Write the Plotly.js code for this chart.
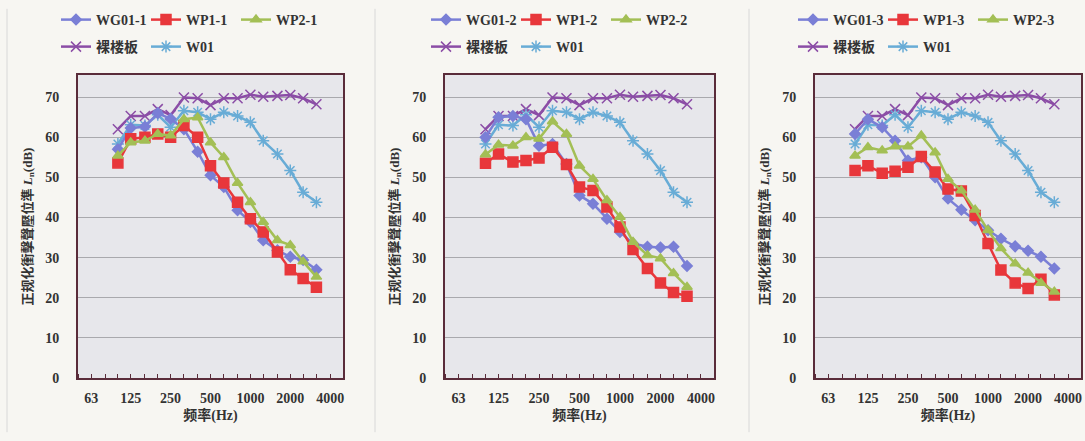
<!DOCTYPE html>
<html>
<head>
<meta charset="utf-8">
<script src="https://cdn.plot.ly/plotly-3.0.1.min.js"></script>
<style>
html,body{margin:0;padding:0;background:#f7f6f2;}
#chart{width:1085px;height:441px;}
</style>
</head>
<body>
<div id="chart"></div>
<script>
// 1/3-octave band centre frequencies (Hz)
const freqs = [100,125,160,200,250,315,400,500,630,800,1000,1250,1600,2000,2500,3150];
const minorBands = [50,63,80,100,125,160,200,250,315,400,500,630,800,1000,1250,1600,2000,2500,3150,4000,5000];
const tickVals = [63,125,250,500,1000,2000,4000];
const tickText = ['63','125','250','500','1000','2000','4000'];
const yTicks = [0,10,20,30,40,50,60,70];

// shared reference curves
const bareSlab = [62,65.3,65.3,67,65.5,69.9,69.7,68,69.7,69.7,70.6,70.1,70.3,70.5,69.7,68.2];
const w01      = [58.3,63.1,62.9,65.6,62.5,66.6,66.2,64.5,66.2,65.3,63.7,59.1,55.8,51.7,46.3,43.8];

// panel 1
const wg01_1 = [57,62.3,62.6,66,64.6,62,56.4,50.5,47.6,41.8,38.9,34.3,31.8,30.2,29.4,27];
const wp1_1  = [53.6,59.6,60,60.8,60,62.9,60,52.9,48.6,43.8,39.7,36.4,31.4,27,24.8,22.6];
const wp2_1  = [55.4,58.7,59.1,60.8,60.4,64.5,64.9,58.7,55,48.6,43.8,38.9,34.3,33.1,29,25.2];
// panel 2
const wg01_2 = [60,65,65.3,64.5,57.9,58.3,53.3,45.5,43.4,39.7,36.4,33.5,32.7,32.5,32.7,27.9];
const wp1_2  = [53.5,55.8,53.8,54.2,54.8,57.5,53.2,47.6,46.7,42.6,37.6,32,27.3,23.7,21.3,20.4];
const wp2_2  = [55.7,58.1,57.9,60,59.6,63.9,60.8,52.9,49.6,44.3,40.1,33.9,30.6,29.8,26.1,22.7];
// panel 3
const wg01_3 = [60.8,64.5,62.5,59.1,54.2,55,50,44.7,41.9,39.3,36.8,34.7,32.8,31.7,30.2,27.3];
const wp1_3  = [51.7,52.9,51,51.5,52.5,55.2,51.3,47.1,46.6,40.5,33.5,26.9,23.7,22.3,24.6,20.7];
const wp2_3  = [55.4,57.5,56.7,57.7,57.7,60.4,56.2,49.6,46.7,41.9,36.8,32.3,28.5,26.2,23.7,21.5];

const panels = [
  {names:['WG01-1','WP1-1','WP2-1'], data:[wg01_1,wp1_1,wp2_1]},
  {names:['WG01-2','WP1-2','WP2-2'], data:[wg01_2,wp1_2,wp2_2]},
  {names:['WG01-3','WP1-3','WP2-3'], data:[wg01_3,wp1_3,wp2_3]}
];

const styles = [
  {color:'#7a7fd6', symbol:'diamond', size:8},
  {color:'#e8373b', symbol:'square', size:10},
  {color:'#a3bf55', symbol:'triangle-up', size:9}
];
const bareStyle = {color:'#8b4da6', symbol:'x-thin-open', size:10};
const w01Style  = {color:'#68acd6', symbol:'asterisk-open', size:10};

const traces = [];
panels.forEach((p, i) => {
  const xa = i === 0 ? 'x' : 'x' + (i+1);
  const ya = i === 0 ? 'y' : 'y' + (i+1);
  const lg1 = i === 0 ? 'legend' : 'legend' + (2*i+1);
  const lg2 = 'legend' + (2*i+2);
  const mk = (name, y, st, lg) => ({
    type:'scatter', mode:'lines+markers', name:name, x:freqs, y:y,
    xaxis:xa, yaxis:ya, legend:lg,
    line:{color:st.color, width:2.5},
    marker:{color:st.color, symbol:st.symbol, size:st.size, line:{color:st.color, width:1.5}}
  });
  traces.push(mk('裸楼板', bareSlab, bareStyle, lg2));
  traces.push(mk('W01', w01, w01Style, lg2));
  p.names.forEach((n, k) => traces.push(mk(n, p.data[k], styles[k], lg1)));
});

const W = 1085, H = 441;
const xDomains = [[78,343],[445,714],[815,1081]];
const yDom = [1-378/H, 1-75/H];
const fontSerif = 'Liberation Serif, Times New Roman, serif';
const titleFont = 'Liberation Serif, Noto Sans CJK SC, serif';

const layout = {
  width:W, height:H,
  margin:{l:0,r:0,t:0,b:0},
  paper_bgcolor:'#f7f6f2',
  plot_bgcolor:'#e7e7eb',
  font:{family:fontSerif, color:'#333', size:13},
  shapes:[
    {type:'line', xref:'paper', yref:'paper', x0:7/W, x1:7/W, y0:0.02, y1:0.98, line:{color:'#d8d8d8', width:1}},
    {type:'line', xref:'paper', yref:'paper', x0:375/W, x1:375/W, y0:0.02, y1:0.98, line:{color:'#d8d8d8', width:1}},
    {type:'line', xref:'paper', yref:'paper', x0:749/W, x1:749/W, y0:0.02, y1:0.98, line:{color:'#d8d8d8', width:1}}
  ]
};

const legendStartX = [62, 432, 799];
xDomains.forEach((d, i) => {
  const sfx = i === 0 ? '' : String(i+1);
  layout['xaxis'+sfx] = {
    type:'log', domain:[d[0]/W, d[1]/W], range:[Math.log10(50), Math.log10(5000)],
    anchor:'y'+sfx,
    tickmode:'array', tickvals:tickVals, ticktext:tickText,
    ticks:'outside', ticklen:6, tickcolor:'rgba(0,0,0,0)',
    tickfont:{family:fontSerif, size:14, color:'#333', weight:'bold'},
    showgrid:false, zeroline:false,
    showline:true, mirror:true, linecolor:'#5a2c3a', linewidth:2,
    minor:{tickmode:'array', tickvals:minorBands, ticks:'inside', ticklen:4, tickcolor:'#5a2c3a', showgrid:false},
    title:{text:'频率(Hz)', font:{family:titleFont, size:14, color:'#333', weight:'bold'}, standoff:5},
    fixedrange:true
  };
  layout['yaxis'+sfx] = {
    domain:yDom, range:[0,75.5], anchor:'x'+sfx,
    tickmode:'array', tickvals:yTicks,
    ticks:'outside', ticklen:14, tickcolor:'rgba(0,0,0,0)',
    tickfont:{family:fontSerif, size:14, color:'#333', weight:'bold'},
    showgrid:true, gridcolor:'#a9a9ad', gridwidth:1,
    zeroline:false,
    showline:true, mirror:true, linecolor:'#5a2c3a', linewidth:2,
    title:{text:'正规化衝擊聲壓位準 <i>L</i><sub>n</sub>(dB)', font:{family:titleFont, size:13, color:'#333', weight:'bold'}, standoff:10},
    fixedrange:true
  };
  const lgA = i === 0 ? 'legend' : 'legend' + (2*i+1);
  const lgB = 'legend' + (2*i+2);
  const common = {
    orientation:'h', xanchor:'left', yanchor:'middle',
    bgcolor:'rgba(0,0,0,0)', borderwidth:0,
    font:{family:titleFont, size:14, color:'#333', weight:'bold'},
    entrywidth:45, itemwidth:30, traceorder:'normal', tracegroupgap:0
  };
  layout[lgA] = Object.assign({}, common, {x:(legendStartX[i]-6)/W, y:1-20/H});
  layout[lgB] = Object.assign({}, common, {x:(legendStartX[i]-6)/W, y:1-47/H});
});

Plotly.newPlot('chart', traces, layout, {staticPlot:true, displayModeBar:false});
</script>
</body>
</html>
